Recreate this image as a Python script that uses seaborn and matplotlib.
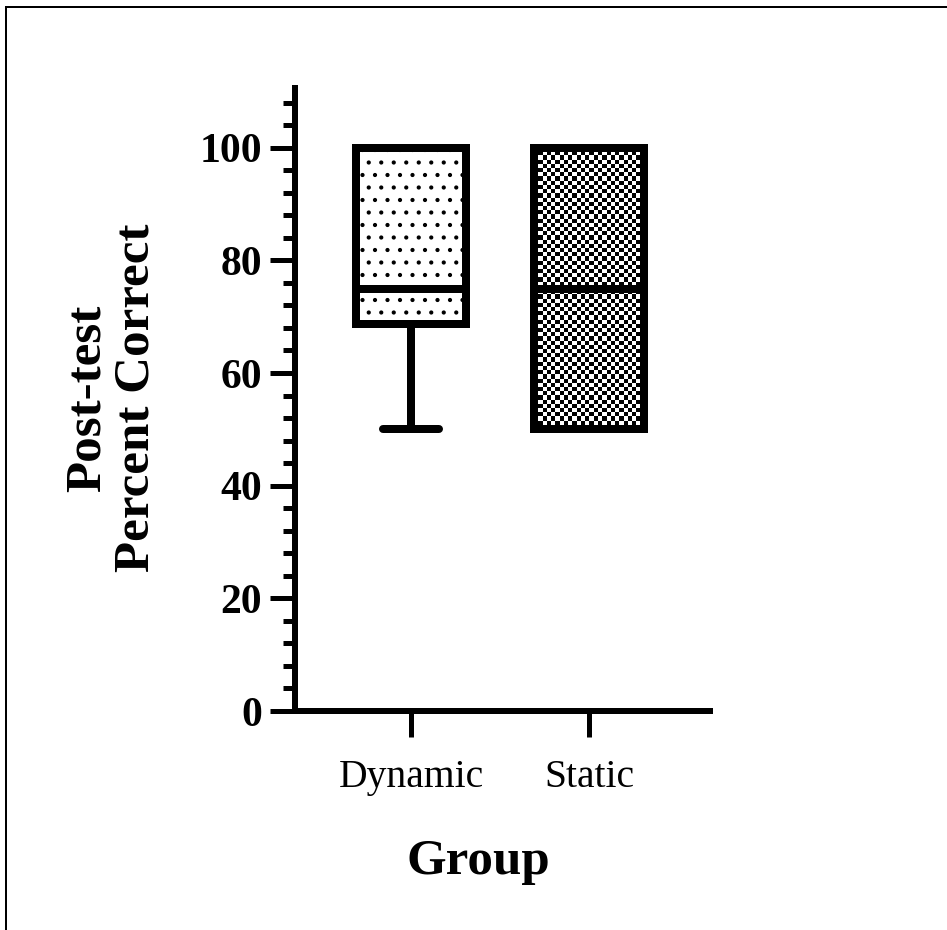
import numpy as np
import pandas as pd
import matplotlib
matplotlib.use("Agg")
import matplotlib.pyplot as plt
from matplotlib.lines import Line2D
from matplotlib.ticker import MultipleLocator
import seaborn as sns

# ---- data (individual scores, percent correct) ----
groups = ["Dynamic", "Static"]
dynamic_scores = [50, 50, 75, 75, 75, 100, 100, 100]
static_scores = [50, 50, 50, 75, 100, 100, 100]
y_ticks = [0, 20, 40, 60, 80, 100]

df = pd.DataFrame({
    "Group": ["Dynamic"] * len(dynamic_scores) + ["Static"] * len(static_scores),
    "Score": dynamic_scores + static_scores,
})

DPI = 75
px = 72.0 / DPI  # points per pixel

sns.set_style("white")
plt.rcParams["font.family"] = ["Liberation Serif", "DejaVu Serif"]
plt.rcParams["hatch.linewidth"] = 1.6
for k in ["text.color", "axes.labelcolor", "xtick.color", "ytick.color",
          "axes.edgecolor"]:
    plt.rcParams[k] = "black"

fig = plt.figure(figsize=(947 / DPI, 930 / DPI), dpi=DPI)
ax = fig.add_axes([295 / 947, 1 - 711 / 930, (710 - 295) / 947, (711 - 88) / 930])

box_w = 0.62
sns.boxplot(data=df, x="Group", y="Score", order=groups, ax=ax,
            color="white", linecolor="black", linewidth=8 * px,
            width=box_w, whis=(0, 100), fill=True, showfliers=False)

ax.set_xlim(-0.652, 1.68)
ax.set_ylim(0, 110.6)

# fills: dotted for Dynamic, checkerboard for Static
boxes = [p for p in ax.patches]
boxes[0].set_hatch(".")
boxes[0].set_facecolor("white")
boxes[1].set_facecolor("none")

fig.canvas.draw()
q1, q3 = np.percentile(static_scores, [25, 75])
x0, x1 = 1 - box_w / 2, 1 + box_w / 2
p0 = ax.transData.transform((x0, q1))
p1 = ax.transData.transform((x1, q3))
cell = 4.2
nx = max(1, int(round(abs(p1[0] - p0[0]) / cell)))
ny = max(1, int(round(abs(p1[1] - p0[1]) / cell)))
ii, jj = np.indices((ny, nx))
checker = ((ii + jj) % 2).astype(float)
im = ax.imshow(checker, cmap="gray", extent=(x0, x1, q1, q3), origin="lower",
               interpolation="nearest", aspect="auto", zorder=1.5)
im.set_clip_path(boxes[1])
ax.set_xlim(-0.652, 1.68)
ax.set_ylim(0, 110.6)

# axes styling
for s in ["top", "right"]:
    ax.spines[s].set_visible(False)
for s in ["left", "bottom"]:
    ax.spines[s].set_linewidth(6 * px)
    ax.spines[s].set_color("black")

ax.yaxis.set_major_locator(MultipleLocator(20))
ax.yaxis.set_minor_locator(MultipleLocator(4))
ax.set_yticks(y_ticks)
ax.set_yticklabels([str(v) for v in y_ticks], fontsize=40, fontweight="bold",
                   color="black")
ax.tick_params(axis="y", which="major", length=25 * px, width=5 * px,
               pad=8 * px, color="black", left=True)
ax.tick_params(axis="y", which="minor", length=12 * px, width=5 * px,
               color="black", left=True)
ax.tick_params(axis="x", which="major", length=26 * px, width=5 * px,
               pad=22 * px, color="black", labelcolor="black", bottom=True,
               labelsize=38)
ax.set_xlabel("")
ax.set_ylabel("")

fig.text(112 / 947, 1 - 398 / 930, "Post-test\nPercent Correct", rotation=90,
         ha="center", va="center", fontsize=49, fontweight="bold",
         linespacing=1.1, multialignment="center", color="black")
fig.text(478 / 947, 1 - 862 / 930, "Group", ha="center", va="center",
         fontsize=49, fontweight="bold", color="black")

# outer frame of the figure panel (left and top edges only are visible)
fx, fy = 6 / 947, 1 - 7 / 930
fig.add_artist(Line2D([fx, fx], [0, fy], transform=fig.transFigure,
                      color="black", linewidth=2 * px, solid_capstyle="projecting"))
fig.add_artist(Line2D([fx, 1], [fy, fy], transform=fig.transFigure,
                      color="black", linewidth=2 * px, solid_capstyle="projecting"))

fig.savefig("out.png", dpi=DPI, facecolor="white")
